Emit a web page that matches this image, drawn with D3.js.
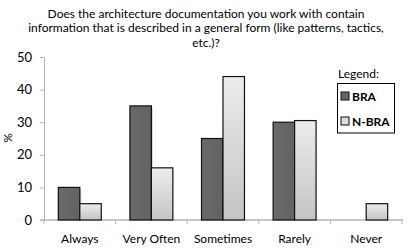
<!DOCTYPE html>
<html><head><meta charset="utf-8">
<script src="https://cdn.jsdelivr.net/npm/d3@7/dist/d3.min.js"></script>
<style>body{margin:0;background:#fff}svg{display:block}text{font-family:Lato,"Open Sans",sans-serif}</style>
</head><body>
<svg id="c" width="408" height="249"></svg>
<script>
const categories = ["Always","Very Often","Sometimes","Rarely","Never"];
const series = ["BRA","N-BRA"];
const braValues = [10,35,25,30,0];
const nbraValues = [5,16,44,30.5,5];
const yTicks = [0,10,20,30,40,50];
const titleLines = ["Does the architecture documentation you work with contain","information that is described in a general form (like patterns, tactics,","etc.)?"];

const svg = d3.select("#c");
const defs = svg.append("defs");
const g1 = defs.append("linearGradient").attr("id","lg").attr("x1",0).attr("y1",0).attr("x2",0).attr("y2",1);
g1.append("stop").attr("offset","0%").attr("stop-color","#ececec");
g1.append("stop").attr("offset","100%").attr("stop-color","#c4c4c4");
const g2 = defs.append("linearGradient").attr("id","dg").attr("x1",0).attr("y1",0).attr("x2",1).attr("y2",0);
g2.append("stop").attr("offset","0%").attr("stop-color","#6a6a6a");
g2.append("stop").attr("offset","100%").attr("stop-color","#626262");

const x0 = d3.scaleBand().domain(categories).range([44,402]).paddingInner(0.4).paddingOuter(0.2);
const x1 = d3.scaleBand().domain(series).range([0,x0.bandwidth()]);
const y = d3.scaleLinear().domain([0,50]).range([220,57]);
const xb = d3.scaleBand().domain(categories).range([44,402]);

// title
svg.append("g").selectAll("text").data(titleLines).join("text")
  .attr("x",206).attr("y",(d,i)=>17.5+i*14.6).attr("text-anchor","middle")
  .attr("font-size",12).attr("fill","#000").text(d=>d);

// y axis
const ya = svg.append("g").attr("transform","translate(44,0)")
  .call(d3.axisLeft(y).tickValues(yTicks).tickSize(4).tickPadding(8));
ya.select(".domain").attr("stroke","#b5b5b5");
ya.selectAll(".tick line").attr("stroke","#b5b5b5");
ya.selectAll(".tick text").attr("font-size",13).attr("fill","#000").attr("font-family","Lato,sans-serif");

// x axis
const xa = svg.append("g").attr("transform","translate(0,220)")
  .call(d3.axisBottom(xb).tickSize(0).tickPadding(14));
xa.select(".domain").remove();
xa.append("line").attr("x1",40).attr("x2",403).attr("stroke","#b5b5b5").attr("stroke-width",1.5);
xa.selectAll(".tl").data(categories.concat(["end"])).join("line")
  .attr("x1",(d,i)=> i<categories.length? xb(d): 402).attr("x2",(d,i)=> i<categories.length? xb(d):402)
  .attr("y1",0).attr("y2",4).attr("stroke","#b5b5b5");
xa.selectAll(".tick text").attr("font-size",12).attr("fill","#000").attr("font-family","Lato,sans-serif");

// y label
svg.append("text").attr("transform","translate(12,138) rotate(-90)").attr("text-anchor","middle")
  .attr("font-size",12).text("%");

// bars
const data = categories.map((c,i)=>({c, vals:[{s:"BRA",v:braValues[i]},{s:"N-BRA",v:nbraValues[i]}]}));
const gb = svg.append("g");
data.forEach(d=>{
  d.vals.forEach(e=>{
    if(e.v<=0) return;
    const bx = x0(d.c)+x1(e.s);
    if(e.s==="BRA"){
      gb.append("rect").attr("x",bx+1.5).attr("y",y(e.v)+1.5).attr("width",x1.bandwidth()).attr("height",y(0)-y(e.v)-1.5).attr("fill","#bbb").attr("opacity",0.6);
    }
    gb.append("rect").attr("x",bx).attr("y",y(e.v)).attr("width",x1.bandwidth()).attr("height",y(0)-y(e.v))
      .attr("fill", e.s==="BRA"?"url(#dg)":"url(#lg)").attr("stroke","#111").attr("stroke-width",1.2);
  });
});

// legend
svg.append("text").attr("x",338).attr("y",78).attr("font-size",12).text("Legend:");
svg.append("rect").attr("x",337.5).attr("y",83.5).attr("width",57).attr("height",49.5).attr("fill","#fff").attr("stroke","#000");
const leg = svg.append("g").selectAll("g").data(series).join("g").attr("transform",(d,i)=>`translate(341,${92+i*25})`);
leg.append("rect").attr("width",8).attr("height",8).attr("fill",(d,i)=>i===0?"#666":"#ddd").attr("stroke","#111");
leg.append("text").attr("x",11).attr("y",8.5).attr("font-size",12).attr("font-weight","bold").text(d=>d);
</script>
</body></html>
